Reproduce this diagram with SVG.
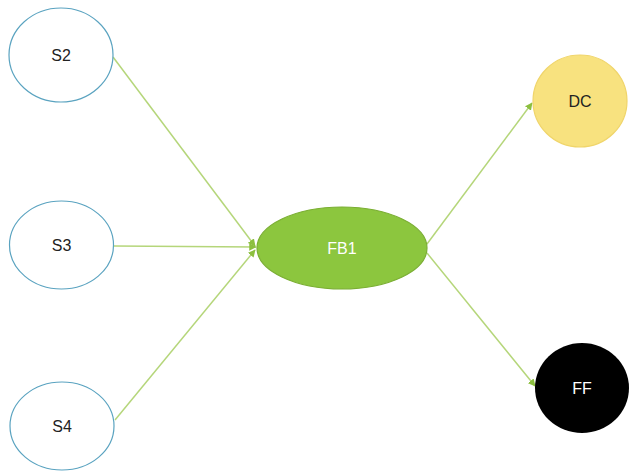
<svg xmlns="http://www.w3.org/2000/svg" width="632" height="472" viewBox="0 0 632 472">
<defs>
<style>
.src ellipse{fill:#ffffff;stroke:#5aa3c0;stroke-width:1.2}
text{font-family:"Liberation Sans","DejaVu Sans",sans-serif;font-size:16px;text-anchor:middle;dominant-baseline:central}
.edge{stroke:#b5d67a;stroke-width:1.5;fill:none;marker-end:url(#ah)}
</style>
<marker id="ah" viewBox="0 0 10 10" refX="9" refY="5" markerWidth="5" markerHeight="5" orient="auto">
<path d="M0,0 L10,5 L0,10 z" fill="#8cbf3f"/>
</marker>
</defs>
<rect width="632" height="472" fill="#ffffff"/>
<g id="connectors">
<line class="edge" x1="113" y1="57" x2="255" y2="246"/>
<line class="edge" x1="114" y1="246" x2="256" y2="247"/>
<line class="edge" x1="115" y1="420" x2="255" y2="250"/>
<line class="edge" x1="427" y1="244" x2="532" y2="103"/>
<line class="edge" x1="427" y1="253" x2="535" y2="386"/>
</g>
<g id="S2" class="src"><ellipse cx="61" cy="55" rx="52" ry="47"/><text x="61" y="55" fill="#222">S2</text></g>
<g id="S3" class="src"><ellipse cx="61.5" cy="245" rx="52" ry="44"/><text x="61.5" y="245" fill="#222">S3</text></g>
<g id="S4" class="src"><ellipse cx="62" cy="426" rx="52" ry="44"/><text x="62" y="426" fill="#222">S4</text></g>
<g id="FB1"><ellipse cx="342" cy="248" rx="85" ry="41" fill="#8cc63e" stroke="#7aae32" stroke-width="1.2"/><text x="342" y="248" fill="#ffffff">FB1</text></g>
<g id="DC"><ellipse cx="580" cy="101" rx="47" ry="46" fill="#f8e27f" stroke="#f0d56a" stroke-width="1.2"/><text x="580" y="101" fill="#222">DC</text></g>
<g id="FF"><ellipse cx="582" cy="388" rx="47" ry="45" fill="#000000"/><text x="582" y="388" fill="#ffffff">FF</text></g>
</svg>
